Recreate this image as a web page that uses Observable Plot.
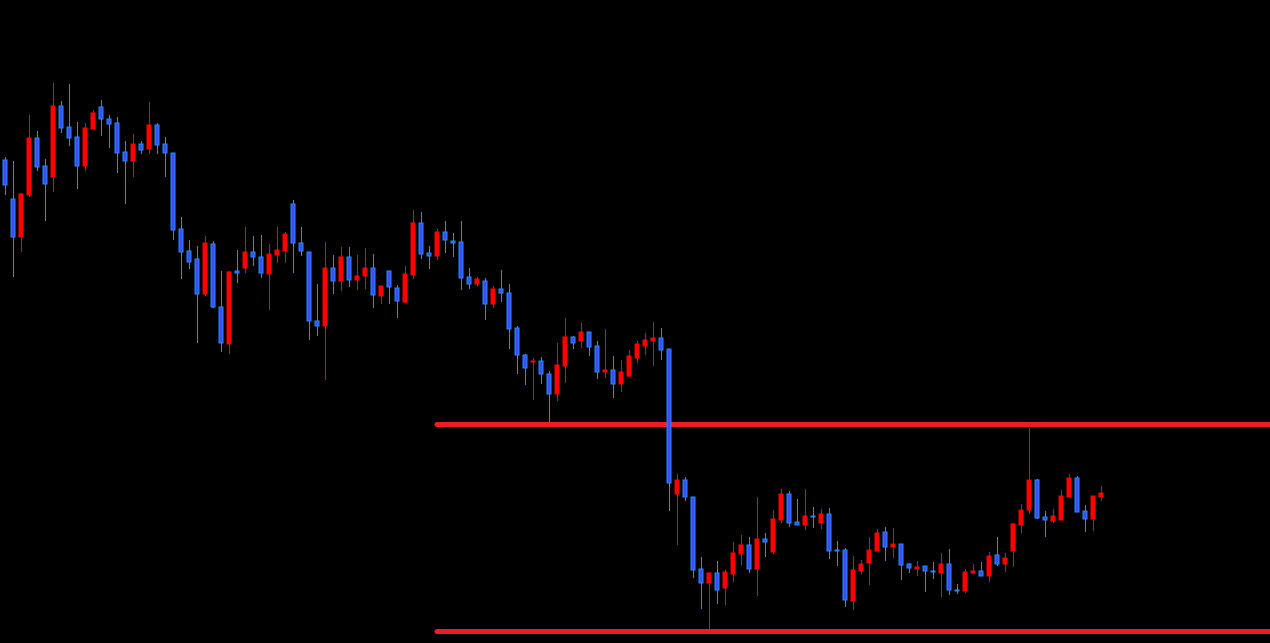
<!DOCTYPE html>
<html><head><meta charset="utf-8">
<script src="https://cdn.jsdelivr.net/npm/d3@7"></script>
<script src="https://cdn.jsdelivr.net/npm/@observablehq/plot@0.6"></script>
<style>html,body{margin:0;padding:0;background:#000;overflow:hidden}</style>
</head><body><div id="chart"></div>
<script>
const open=[114.83,114.44,114.06,114.48,115.05,114.77,114.66,115.37,115.16,115.06,
114.77,115.14,115.36,115.24,115.20,114.91,114.82,114.99,114.94,115.18,
114.99,114.90,114.14,113.92,113.84,113.49,113.99,113.36,112.99,113.72,
113.75,113.91,113.86,113.69,113.88,113.92,114.39,114.00,113.91,113.22,
113.17,113.75,113.62,113.86,113.63,113.67,113.75,113.47,113.72,113.55,
113.41,113.68,114.20,113.90,113.87,114.11,114.02,114.01,113.66,113.59,
113.62,113.39,113.54,113.50,113.15,112.88,112.81,112.82,112.69,112.49,
112.77,113.06,113.02,113.11,112.97,112.71,112.73,112.59,112.67,112.85,
112.97,113.02,113.05,112.94,111.49,111.63,111.46,110.74,110.60,110.70,
110.55,110.69,110.89,110.98,110.74,111.04,110.91,111.23,111.49,111.21,
111.18,111.27,111.20,111.29,110.93,110.93,110.42,110.72,110.80,110.92,
111.11,110.96,110.99,110.79,110.74,110.77,110.72,110.70,110.79,110.53,
110.52,110.70,110.72,110.67,110.88,110.79,110.92,111.18,111.33,111.63,
111.26,111.22,111.23,111.46,111.65,111.32,111.24,111.46];
const high=[114.86,114.82,114.50,115.28,115.12,114.84,115.60,115.42,115.59,115.21,
115.20,115.33,115.43,115.28,115.26,115.02,115.09,115.02,115.41,115.20,
115.06,114.90,114.26,114.03,113.97,114.07,114.02,113.72,113.72,113.93,
114.16,114.07,114.08,113.99,114.16,114.11,114.43,114.16,113.91,113.59,
114.01,113.88,113.96,113.96,113.88,113.95,113.89,113.57,113.72,113.58,
113.77,114.33,114.31,113.97,114.14,114.22,114.10,114.22,113.75,113.66,
113.65,113.57,113.73,113.59,113.17,112.89,112.85,112.86,112.72,113.00,
113.25,113.07,113.20,113.11,113.02,113.14,112.87,112.83,112.93,113.02,
113.10,113.21,113.15,112.94,111.69,111.66,111.46,110.86,110.71,110.82,
110.73,111.01,111.08,111.06,111.46,111.10,111.33,111.54,111.52,111.44,
111.54,111.36,111.34,111.35,111.02,110.95,110.87,110.83,111.06,111.14,
111.16,111.15,110.99,110.80,110.82,110.77,110.81,110.90,110.94,110.59,
110.74,110.79,110.81,110.91,111.06,110.90,111.20,111.39,112.15,111.64,
111.32,111.34,111.53,111.69,111.67,111.38,111.47,111.57];
const low=[114.48,113.66,113.91,114.46,114.72,114.22,114.51,115.10,114.97,114.54,
114.72,115.14,115.07,114.95,114.70,114.39,114.66,114.89,114.89,114.89,
114.66,114.03,113.64,113.74,113.00,113.47,113.35,112.91,112.89,113.60,
113.70,113.77,113.65,113.33,113.80,113.80,113.70,113.87,113.03,113.07,
112.63,113.49,113.52,113.56,113.53,113.54,113.35,113.39,113.39,113.25,
113.40,113.64,113.84,113.74,113.83,113.90,113.86,113.53,113.54,113.57,
113.23,113.35,113.41,112.94,112.69,112.58,112.43,112.59,112.21,112.42,
112.60,112.94,112.95,112.87,112.64,112.65,112.45,112.51,112.66,112.80,
112.88,112.77,112.83,111.32,110.98,111.42,110.65,110.34,110.14,110.39,
110.38,110.61,110.78,110.70,110.47,110.86,110.89,111.20,111.16,111.18,
111.13,111.15,111.14,110.84,110.77,110.36,110.33,110.69,110.58,110.92,
110.82,110.85,110.63,110.70,110.67,110.51,110.64,110.46,110.48,110.49,
110.50,110.69,110.67,110.61,110.77,110.71,110.76,111.10,111.29,111.24,
111.06,111.20,111.23,111.45,111.31,111.11,111.12,111.42];
const close=[114.58,114.06,114.49,115.05,114.76,114.59,115.37,115.15,115.05,114.77,
115.15,115.30,115.24,115.19,114.90,114.82,114.99,114.93,115.18,114.98,
114.90,114.13,113.91,113.81,113.49,114.00,113.36,113.00,113.71,113.70,
113.91,113.86,113.70,113.89,113.93,114.09,114.00,113.92,113.22,113.17,
113.75,113.62,113.86,113.63,113.67,113.75,113.48,113.57,113.56,113.42,
113.69,114.20,113.89,113.87,114.11,114.03,114.00,113.65,113.59,113.64,
113.39,113.54,113.50,113.14,112.88,112.75,112.82,112.69,112.49,112.78,
113.06,113.00,113.11,112.96,112.71,112.73,112.59,112.71,112.87,112.99,
113.03,113.05,112.93,111.60,111.63,111.46,110.73,110.60,110.70,110.53,
110.71,110.90,110.98,110.74,111.04,111.01,111.24,111.49,111.20,111.18,
111.27,111.26,111.29,110.92,110.92,110.43,110.73,110.79,110.93,111.10,
110.96,110.99,110.78,110.75,110.76,110.72,110.71,110.79,110.53,110.52,
110.71,110.72,110.67,110.87,110.79,110.85,111.19,111.33,111.63,111.25,
111.23,111.27,111.47,111.65,111.31,111.24,111.47,111.50];
const levels=[112.19,110.12];
const levelStart=[54,54];

const xMin=-0.625, xMax=158.125;
const candles=open.map((o,i)=>({i,open:o,high:high[i],low:low[i],close:close[i]}));
const up=candles.filter(d=>d.close>d.open);
const down=candles.filter(d=>d.close<=d.open);
const lines=levels.map((v,k)=>({v,start:levelStart[k],end:xMax}));
const hw=0.25;
const chart=Plot.plot({
  width:1270,height:643,margin:0,
  style:{background:"#000"},
  x:{domain:[xMin,xMax],axis:null},
  y:{domain:[110,116.43],axis:null},
  marks:[
    Plot.ruleY(lines,{y:"v",x1:"start",x2:"end",stroke:"#ee1c25",strokeWidth:5,strokeLinecap:"round"}),
    Plot.ruleX(down,{x:"i",y1:"low",y2:"high",stroke:"#1e90ff",strokeWidth:1}),
    Plot.ruleX(up,{x:"i",y1:"low",y2:"high",stroke:"#ff0000",strokeWidth:1}),
    Plot.rect(down,{x1:d=>d.i-hw,x2:d=>d.i+hw,y1:"open",y2:"close",fill:"#3c4cff",stroke:"#1e90ff",strokeWidth:1}),
    Plot.rect(up,{x1:d=>d.i-hw,x2:d=>d.i+hw,y1:"open",y2:"close",fill:"#ff0000",stroke:"#ff0000",strokeWidth:1})
  ]
});
document.getElementById("chart").appendChild(chart);
</script>
</body></html>
